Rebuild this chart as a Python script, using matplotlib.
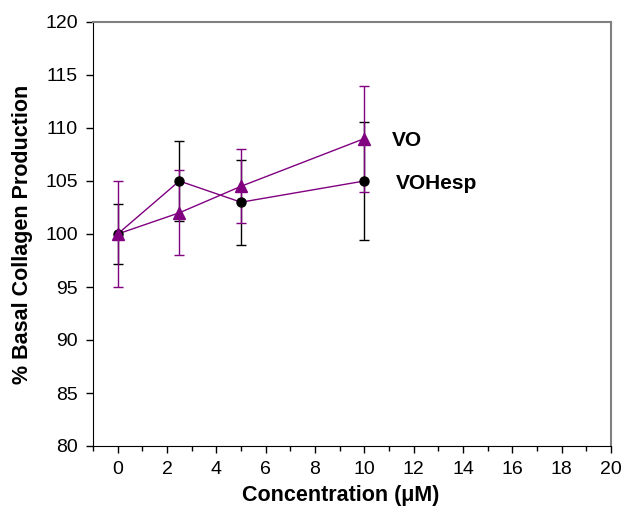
import matplotlib.pyplot as plt
from matplotlib.ticker import MultipleLocator

plt.rcParams['font.family'] = ['Liberation Sans', 'DejaVu Sans']

conc = [0, 2.5, 5, 10]
vo = [100, 102, 104.5, 109]
vo_err = [5, 4, 3.5, 5]
vohesp = [100, 105, 103, 105]
vohesp_err = [2.8, 3.8, 4, 5.6]

purple = '#800080'

fig = plt.figure(figsize=(6.26, 5.09), dpi=100)
ax = fig.add_axes([93 / 626, 1 - 446 / 509, (611 - 93) / 626, (446 - 22) / 509])

ax.errorbar(conc, vohesp, yerr=vohesp_err, fmt='none', ecolor='black',
            elinewidth=1, capsize=3.6, capthick=1, zorder=2)
ax.errorbar(conc, vo, yerr=vo_err, fmt='none', ecolor=purple,
            elinewidth=1, capsize=3.6, capthick=1, zorder=2)
ax.plot(conc, vohesp, color=purple, lw=1, zorder=3)
ax.plot(conc, vo, color=purple, lw=1, zorder=3)
ax.plot(conc, vohesp, 'o', color='black', ms=6.5, zorder=4)
ax.plot(conc, vo, '^', color=purple, ms=8, zorder=4)

ax.text(11.13, 108.8, 'VO', fontsize=15, fontweight='bold', va='center')
ax.text(11.26, 104.8, 'VOHesp', fontsize=15, fontweight='bold', va='center')

ax.set_xlim(-1, 20)
ax.set_ylim(80, 120)
ax.xaxis.set_major_locator(MultipleLocator(2))
ax.xaxis.set_minor_locator(MultipleLocator(1))
ax.yaxis.set_major_locator(MultipleLocator(5))
ax.tick_params(axis='both', which='major', direction='out', length=5,
               labelsize=14, width=1, pad=6)
ax.tick_params(axis='x', which='minor', direction='out', length=3.5, width=1)

for s in ['top', 'right']:
    ax.spines[s].set_color('#808080')
    ax.spines[s].set_linewidth(1.5)

ax.set_xlabel('Concentration (\u03bcM)', fontsize=15.5, fontweight='bold',
              labelpad=5, x=0.479)
ax.set_ylabel('% Basal Collagen Production', fontsize=15.5, fontweight='bold', labelpad=9)

fig.savefig('out.png', dpi=100)
